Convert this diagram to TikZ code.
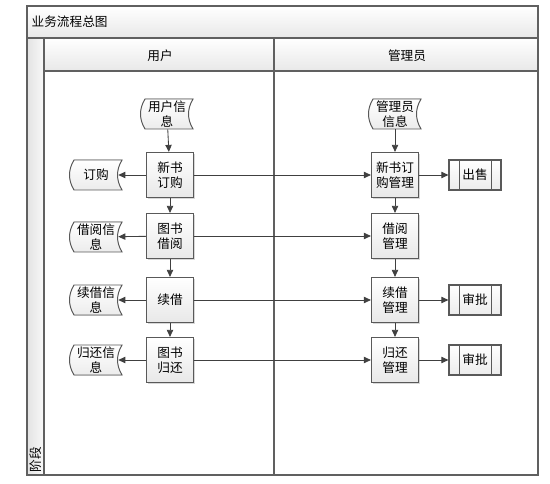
\documentclass[tikz,border=0pt]{standalone}
\usepackage{fontspec}
\setmainfont{Noto Sans CJK SC}
\usetikzlibrary{arrows.meta,shadows}

\tikzset{
  frameline/.style={draw=gray!75!black, line width=0.9pt},
  procbox/.style={draw=gray!70!black, line width=0.8pt, top color=white, bottom color=gray!18,
    minimum width=1.175cm, minimum height=1.125cm, align=center, inner sep=1pt,
    drop shadow={shadow xshift=0.8pt, shadow yshift=-0.8pt, fill=gray!60}},
  datatext/.style={minimum width=1.1cm, minimum height=0.75cm, align=center, inner sep=0pt},
  datafill/.style={draw=gray!70!black, line width=0.7pt, top color=white, bottom color=gray!15},
  subbox/.style={draw=gray!70!black, line width=0.8pt, top color=white, bottom color=gray!15,
    minimum width=1.3cm, minimum height=0.75cm, inner sep=1pt},
  subline/.style={draw=gray!70!black, line width=0.8pt},
  flow/.style={draw=black!75, line width=0.6pt, -{Triangle[length=5pt,width=4.5pt]}},
}

% stored data shape: name, position, text
\newcommand{\datanode}[3]{%
  \filldraw[datafill, shift={(#2)}] (-22,-15) -- (26,-15) .. controls (20,-5) and (20,5) .. (26,15)
    -- (-22,15) .. controls (-28,5) and (-28,-5) .. (-22,-15) -- cycle;
  \node[datatext] (#1) at (#2) {#3};
}

\begin{document}
\begin{tikzpicture}[x=0.025cm, y=-0.025cm, font=\fontsize{9pt}{10.5pt}\selectfont]
  \useasboundingbox[fill=white] (0,0) rectangle (550,484);

  % lanes
  \shade[top color=white, bottom color=gray!18] (27,6) rectangle (538,38);
  \shade[left color=gray!22, right color=gray!5] (27,38) rectangle (44,475);
  \shade[top color=white, bottom color=gray!18] (44,38) rectangle (538,71);
  \draw[frameline] (27,6) rectangle (538,475);
  \draw[frameline] (27,38) -- (538,38);
  \draw[frameline] (44,38) -- (44,475);
  \draw[frameline] (44,71) -- (538,71);
  \draw[frameline] (274,38) -- (274,475);
  \node[anchor=west, inner sep=1pt] (title) at (30,22) {业务流程总图};
  \node (userlane) at (160,56) {用户};
  \node (adminlane) at (407,56) {管理员};
  \node[rotate=90, anchor=west, inner sep=1pt] (stage) at (36,474) {阶段};

  % user lane
  \datanode{userinfo}{167,114}{用户信\\息}
  \node[procbox] (neworder) at (170,175) {新书\\订购};
  \node[procbox] (borrow) at (170,236) {图书\\借阅};
  \node[procbox] (renew) at (170,300) {续借};
  \node[procbox] (giveback) at (170,360) {图书\\归还};
  \datanode{orderdoc}{96,175}{订购}
  \datanode{borrowdoc}{96,237}{借阅信\\息}
  \datanode{renewdoc}{96,300}{续借信\\息}
  \datanode{returndoc}{96,360}{归还信\\息}

  % admin lane
  \datanode{admininfo}{395,114}{管理员\\信息}
  \node[procbox] (ordermgr) at (395,175) {新书订\\购管理};
  \node[procbox] (borrowmgr) at (395,236) {借阅\\管理};
  \node[procbox] (renewmgr) at (395,300) {续借\\管理};
  \node[procbox] (returnmgr) at (395,360) {归还\\管理};
  \node[subbox] (sell) at (475,175) {出售};
  \node[subbox] (checkA) at (475,300) {审批};
  \node[subbox] (checkB) at (475,360) {审批};
  \foreach \p in {sell,checkA,checkB}{
    \draw[subline] ([xshift=0.275cm]\p.north west) -- ([xshift=0.275cm]\p.south west);
    \draw[subline] ([xshift=-0.25cm]\p.north east) -- ([xshift=-0.25cm]\p.south east);
  }

  % flows
  \draw[flow] (userinfo) -- (neworder);
  \draw[flow] (neworder) -- (borrow);
  \draw[flow] (borrow) -- (renew);
  \draw[flow] (renew) -- (giveback);
  \draw[flow] (neworder) -- (orderdoc);
  \draw[flow] (borrow) -- (borrowdoc);
  \draw[flow] (renew) -- (renewdoc);
  \draw[flow] (giveback) -- (returndoc);
  \draw[flow] (neworder) -- (ordermgr);
  \draw[flow] (borrow) -- (borrowmgr);
  \draw[flow] (renew) -- (renewmgr);
  \draw[flow] (giveback) -- (returnmgr);
  \draw[flow] (admininfo) -- (ordermgr);
  \draw[flow] (ordermgr) -- (borrowmgr);
  \draw[flow] (borrowmgr) -- (renewmgr);
  \draw[flow] (renewmgr) -- (returnmgr);
  \draw[flow] (ordermgr) -- (sell);
  \draw[flow] (renewmgr) -- (checkA);
  \draw[flow] (returnmgr) -- (checkB);
\end{tikzpicture}
\end{document}
